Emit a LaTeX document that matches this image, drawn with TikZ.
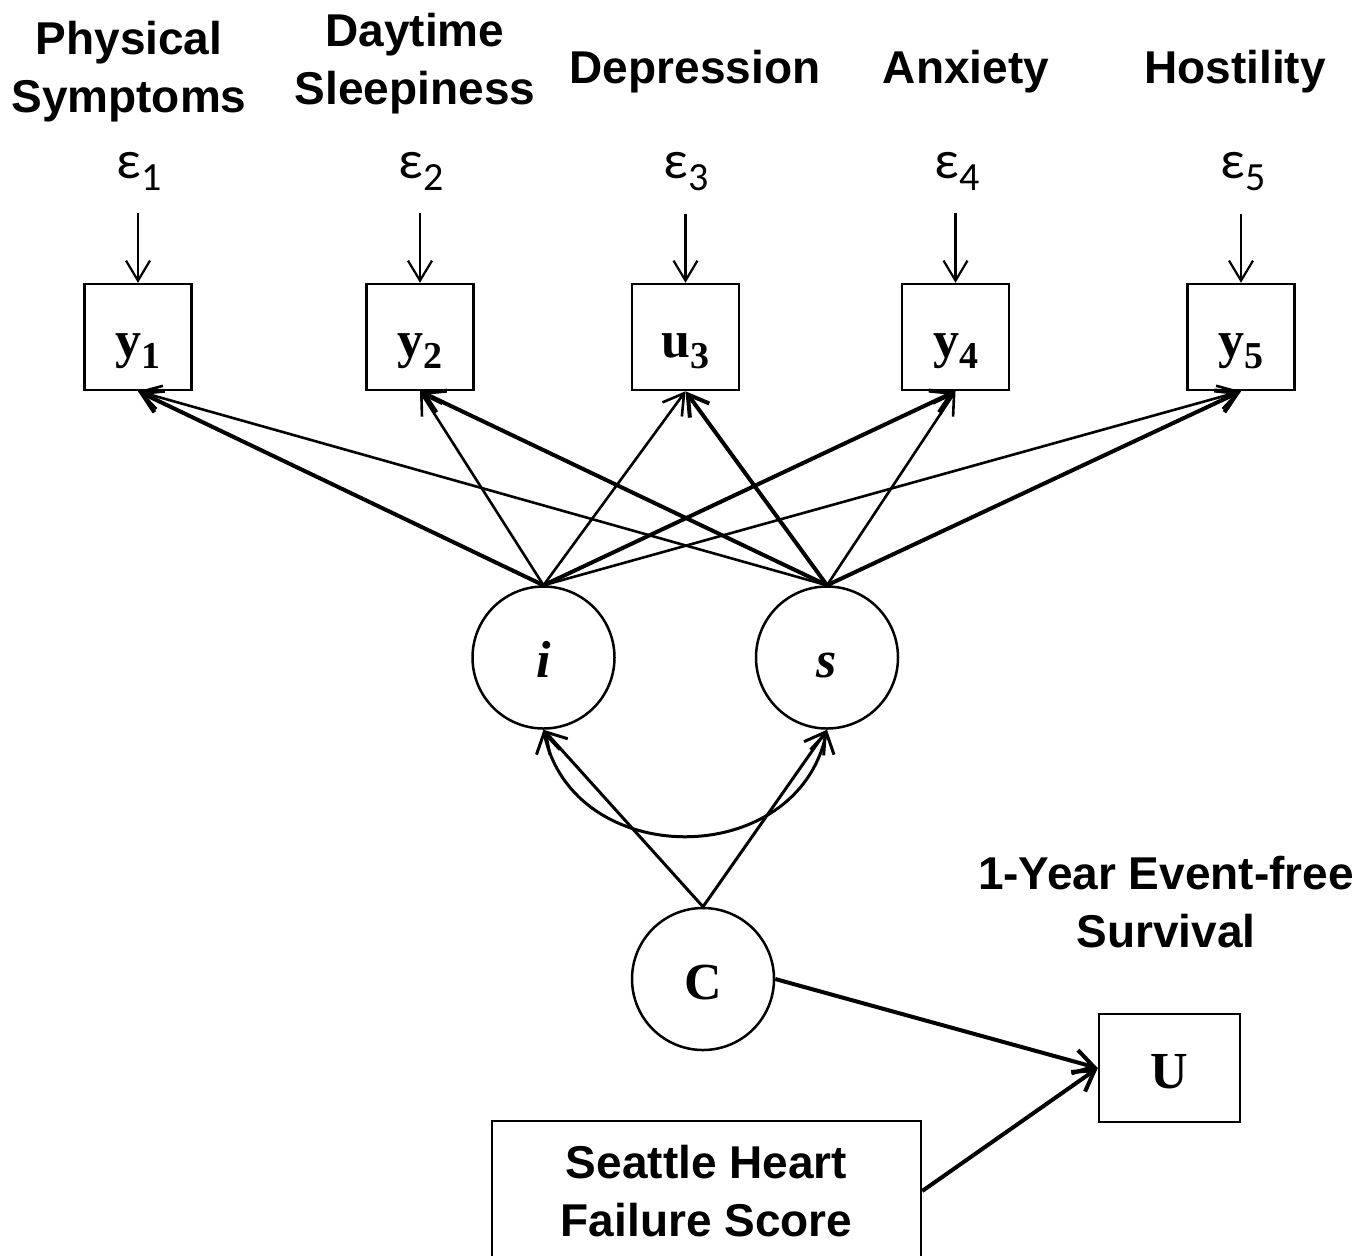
\documentclass[tikz,border=0pt]{standalone}
\usepackage{fontspec}
\setmainfont{Liberation Serif}
\newfontfamily\labfont{Liberation Sans}
\newfontfamily\epsfont{Carlito}
\usetikzlibrary{arrows.meta}
\newcommand{\mysub}[1]{\raisebox{-5.5pt}{\fontsize{19}{19}\selectfont #1}}
\newcommand{\epsub}[1]{\raisebox{-6pt}{\fontsize{20}{20}\selectfont #1}}
\begin{document}
\begin{tikzpicture}[x=0.5pt,y=-0.5pt,
  >={Straight Barb[length=10pt,width=12pt]},
  obs/.style={draw,line width=1.25pt,minimum width=53.5pt,minimum height=53pt,inner sep=0pt,text height=20pt,text depth=0pt,font=\bfseries\fontsize{26}{26}\selectfont},
  lat/.style={draw,circle,line width=1.25pt,minimum size=71pt,inner sep=0pt,text height=20pt,text depth=0pt,font=\bfseries\fontsize{26}{26}\selectfont},
  ttl/.style={anchor=base,align=center,inner sep=0pt,font=\labfont\bfseries\fontsize{23}{29}\selectfont},
  eps/.style={anchor=base,inner sep=0pt,font=\epsfont\fontsize{27}{27}\selectfont},
  lthin/.style={->,line width=1.3pt},
  lthick/.style={->,line width=2pt},
  lmid/.style={->,line width=1.5pt},
  erra/.style={->,line width=1.1pt,shorten <=11.5pt},
]
\useasboundingbox (0,0) rectangle (1360,1255);
\clip (0,0) rectangle (1360,1255);

% titles
\node[ttl] (lphy) at (129,112) {Physical\\Symptoms};
\node[ttl] (lday) at (415,104) {Daytime\\Sleepiness};
\node[ttl] (ldep) at (695,83) {Depression};
\node[ttl] (lanx) at (966,83) {Anxiety};
\node[ttl] (lhos) at (1235,83) {Hostility};
\node[ttl] (lsur) at (1166,947) {1-Year Event-free\\Survival};

% error terms
\node[eps] (e1) at (139,178) {ε\epsub{1}};
\node[eps] (e2) at (421,178) {ε\epsub{2}};
\node[eps] (e3) at (686,178) {ε\epsub{3}};
\node[eps] (e4) at (957,178) {ε\epsub{4}};
\node[eps] (e5) at (1243,178) {ε\epsub{5}};

% observed boxes
\node[obs] (y1) at (138,337) {y\mysub{1}};
\node[obs] (y2) at (420,337) {y\mysub{2}};
\node[obs] (u3) at (685.5,337) {u\mysub{3}};
\node[obs] (y4) at (955.5,337) {y\mysub{4}};
\node[obs] (y5) at (1241,337) {y\mysub{5}};

% latent
\node[lat] (i) at (543.5,657.5) {\itshape i};
\node[lat] (s) at (827,657.5) {\itshape s};
\node[lat] (C) at (703,979) {C};

\node[obs,minimum width=70.5pt,minimum height=54pt] (U) at (1169.5,1068) {U};
\node[draw,line width=1.25pt,minimum width=214.5pt,minimum height=70pt,inner sep=0pt,align=center,text depth=0pt,font=\labfont\bfseries\fontsize{23}{29}\selectfont] (SH) at (706.5,1191) {Seattle Heart\\Failure Score};

% error arrows
\foreach \e/\y in {e1/y1,e2/y2,e3/u3,e4/y4,e5/y5}
  \draw[erra] (\e.south -| \y.north) -- (\y.north);

% loadings
\draw[lthick] (i.north) -- (y1.south);
\draw[lthin]  (s.north) -- (y1.south);
\draw[lthin]  (i.north) -- (y2.south);
\draw[lthick] (s.north) -- (y2.south);
\draw[lthin]  (i.north) -- (u3.south);
\draw[lthick] (s.north) -- (u3.south);
\draw[lthick] (i.north) -- (y4.south);
\draw[lthin]  (s.north) -- (y4.south);
\draw[lthin]  (i.north) -- (y5.south);
\draw[lthick] (s.north) -- (y5.south);

% class to growth factors
\draw[lmid] (C.north) -- (i.south);
\draw[lmid] (C.north) -- (s.south);
\draw[lmid,<->] (i.south) .. controls (573,871) and (797,871) .. (s.south);

% outcome
\draw[lthick] (C.east) -- (U.west);
\draw[lthick] (SH.east) -- (U.west);
\end{tikzpicture}
\end{document}
